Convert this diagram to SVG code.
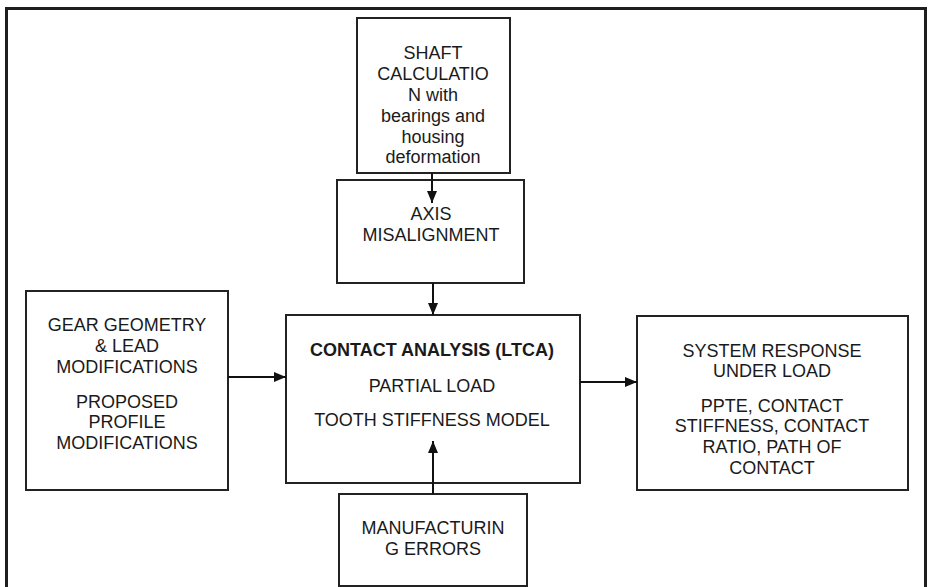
<svg xmlns="http://www.w3.org/2000/svg" width="935" height="587" viewBox="0 0 935 587">
<style>
.box{fill:#fff;stroke:#222;stroke-width:2}
.frame{fill:none;stroke:#1e1e1e;stroke-width:3}
.t{font-family:"Liberation Sans",Arial,sans-serif;font-size:18px;fill:#1a1a1a;text-anchor:middle}
.b{font-weight:bold}
.c{stroke:#111;stroke-width:2;fill:none;marker-end:url(#ah)}
</style>
<defs>
<marker id="ah" viewBox="0 0 12 10" refX="12" refY="5" markerWidth="12" markerHeight="10" markerUnits="userSpaceOnUse" orient="auto">
<path d="M0,0 L12,5 L0,10 Z" fill="#111"/>
</marker>
</defs>
<rect width="935" height="587" fill="#fff"/>
<rect class="frame" x="6.5" y="8.5" width="919" height="600"/>
<g id="shaft">
<rect class="box" x="357" y="18" width="153" height="155"/>
<text class="t" x="433" y="59">SHAFT</text>
<text class="t" x="433" y="80">CALCULATIO</text>
<text class="t" x="433" y="101">N with</text>
<text class="t" x="433" y="122">bearings and</text>
<text class="t" x="433" y="143">housing</text>
<text class="t" x="433" y="163">deformation</text>
</g>
<g id="axis">
<rect class="box" x="337" y="180" width="187" height="103"/>
<text class="t" x="431" y="220">AXIS</text>
<text class="t" x="431" y="241">MISALIGNMENT</text>
</g>
<g id="geometry">
<rect class="box" x="26" y="291" width="202" height="199"/>
<text class="t" x="127" y="331">GEAR GEOMETRY</text>
<text class="t" x="127" y="352">&amp; LEAD</text>
<text class="t" x="127" y="373">MODIFICATIONS</text>
<text class="t" x="127" y="408">PROPOSED</text>
<text class="t" x="127" y="428">PROFILE</text>
<text class="t" x="127" y="449">MODIFICATIONS</text>
</g>
<g id="ltca">
<rect class="box" x="286" y="315" width="294" height="168"/>
<text class="t b" x="432" y="356">CONTACT ANALYSIS (LTCA)</text>
<text class="t" x="432" y="392">PARTIAL LOAD</text>
<text class="t" x="432" y="426">TOOTH STIFFNESS MODEL</text>
</g>
<g id="response">
<rect class="box" x="637" y="316" width="271" height="174"/>
<text class="t" x="772" y="357">SYSTEM RESPONSE</text>
<text class="t" x="772" y="377">UNDER LOAD</text>
<text class="t" x="772" y="412">PPTE, CONTACT</text>
<text class="t" x="772" y="432">STIFFNESS, CONTACT</text>
<text class="t" x="772" y="453">RATIO, PATH OF</text>
<text class="t" x="772" y="474">CONTACT</text>
</g>
<g id="manufacturing">
<rect class="box" x="339" y="494" width="188" height="92"/>
<text class="t" x="433" y="534">MANUFACTURIN</text>
<text class="t" x="433" y="555">G ERRORS</text>
</g>
<g id="connectors">
<line class="c" x1="432" y1="173" x2="432" y2="203"/>
<line class="c" x1="433" y1="283" x2="433" y2="315"/>
<line class="c" x1="228" y1="377" x2="286" y2="377"/>
<line class="c" x1="580" y1="382" x2="637" y2="382"/>
<line class="c" x1="433" y1="494" x2="433" y2="441"/>
</g>
</svg>
